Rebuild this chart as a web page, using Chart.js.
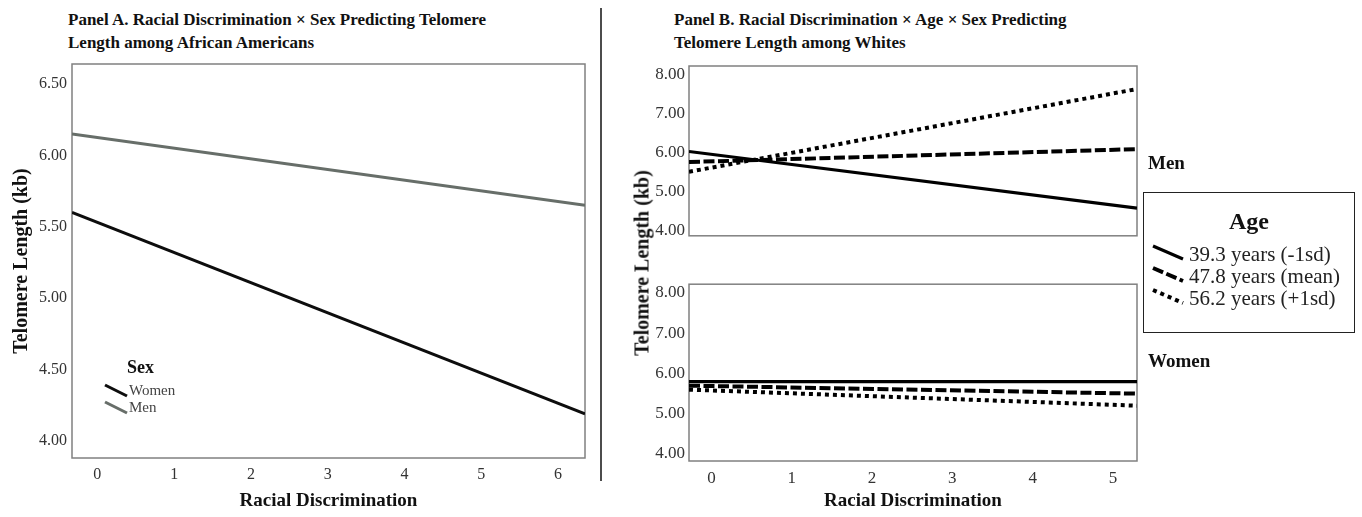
<!DOCTYPE html>
<html>
<head>
<meta charset="utf-8">
<script src="https://cdn.jsdelivr.net/npm/chart.js@4.4.1/dist/chart.umd.min.js"></script>
<style>
body { margin: 0; background: #fff; width: 1362px; height: 517px; overflow: hidden; position: relative;
       font-family: "Liberation Serif", "Times New Roman", serif; color: #111; }
.abs { position: absolute; }
.ptitle { font-weight: bold; font-size: 17px; line-height: 23px; white-space: nowrap; }
.ytitle { font-weight: bold; font-size: 20px; white-space: nowrap; transform: translate(-50%, -50%) rotate(-90deg); }
.glabel { font-weight: bold; font-size: 19px; white-space: nowrap; line-height: 22px; }
.leg { font-size: 15px; color: #444; white-space: nowrap; line-height: 17px; }
.agebox { border: 1.5px solid #222; box-sizing: border-box; }
.agehead { font-weight: bold; font-size: 24px; text-align: center; line-height: 28px; }
.ageitem { font-size: 21px; white-space: nowrap; line-height: 22px; color: #222; }
</style>
</head>
<body>

<div class="abs ptitle" style="left:68px; top:8px;">Panel A. Racial Discrimination × Sex Predicting Telomere<br>Length among African Americans</div>
<div class="abs ptitle" style="left:674px; top:8px;">Panel B. Racial Discrimination × Age × Sex Predicting<br>Telomere Length among Whites</div>

<canvas id="chartA" class="abs" style="left:0; top:0;" width="600" height="517"></canvas>
<canvas id="chartMen" class="abs" style="left:620px; top:0;" width="530" height="250"></canvas>
<canvas id="chartWomen" class="abs" style="left:620px; top:270px;" width="530" height="247"></canvas>

<div class="abs ytitle" style="left:642px; top:263px;">Telomere Length (kb)</div>
<div class="abs glabel" style="left:1148px; top:152px;">Men</div>
<div class="abs glabel" style="left:1148px; top:350px;">Women</div>

<!-- legend panel A -->
<div class="abs glabel" style="left:127px; top:356px; font-size:18px;">Sex</div>
<div class="abs leg" style="left:129px; top:382px;">Women</div>
<div class="abs leg" style="left:129px; top:399px;">Men</div>

<!-- legend panel B -->
<div class="abs agebox" style="left:1143px; top:192px; width:212px; height:141px;"></div>
<div class="abs agehead" style="left:1143px; top:207px; width:212px;">Age</div>
<div class="abs ageitem" style="left:1189px; top:243px;">39.3 years (-1sd)</div>
<div class="abs ageitem" style="left:1189px; top:265px;">47.8 years (mean)</div>
<div class="abs ageitem" style="left:1189px; top:287px;">56.2 years (+1sd)</div>

<svg id="overlay" class="abs" style="left:0; top:0; pointer-events:none;" width="1362" height="517"></svg>

<script>
// ---------- data ----------
// Panel A: line ends at the left / right edge of the plot
const discA = [-0.33, 6.35];
const womenA = [5.60, 4.19];
const menA = [6.15, 5.65];
const xTicksA = [0, 1, 2, 3, 4, 5, 6];
const yTicksA = [4.0, 4.5, 5.0, 5.5, 6.0, 6.5];

// Panel B: line ends at the left / right edge of each plot
const discB = [-0.28, 5.30];
const menYoung = [6.02, 4.57];
const menMean = [5.75, 6.08];
const menOld = [5.50, 7.62];
const womenYoung = [5.79, 5.79];
const womenMean = [5.69, 5.49];
const womenOld = [5.59, 5.19];
const xTicksB = [0, 1, 2, 3, 4, 5];
const yTicksB = [4, 5, 6, 7, 8];
const ageLabels = ['39.3 years (-1sd)', '47.8 years (mean)', '56.2 years (+1sd)'];

// ---------- styles ----------
const FONT = '"Liberation Serif", "Times New Roman", serif';
const tickColor = '#333';
const boxColor = '#808080';
const ageStyles = [
    { borderColor: '#000', borderWidth: 3.2, borderDash: [] },
    { borderColor: '#000', borderWidth: 4, borderDash: [11, 3.5] },
    { borderColor: '#000', borderWidth: 4, borderDash: [4, 4] }
];

function pairs(xs, ys) {
    const out = [];
    for (let i = 0; i < xs.length; i++) out.push({ x: xs[i], y: ys[i] });
    return out;
}

// rectangle round the plot area
const boxPlugin = {
    id: 'plotBox',
    beforeDatasetsDraw(chart) {
        const a = chart.chartArea;
        const ctx = chart.ctx;
        ctx.save();
        ctx.strokeStyle = boxColor;
        ctx.lineWidth = 1.5;
        ctx.strokeRect(a.left, a.top, a.right - a.left, a.bottom - a.top);
        ctx.restore();
    }
};

function lineSet(label, xs, ys, style) {
    return Object.assign({
        label: label,
        data: pairs(xs, ys),
        showLine: true,
        pointRadius: 0,
        borderCapStyle: 'butt',
        tension: 0
    }, style);
}

function yScale(min, max, ticks, width, size, pad, extra) {
    return Object.assign({
        type: 'linear', min: min, max: max,
        grid: { display: false, drawTicks: false }, border: { display: false },
        afterBuildTicks: s => { s.ticks = ticks.map(v => ({ value: v })); },
        afterFit: s => { s.width = width; },
        ticks: { padding: pad, color: tickColor, font: { family: FONT, size: size }, callback: v => Number(v).toFixed(2) }
    }, extra || {});
}

function xScale(min, max, ticks, height, size) {
    return {
        type: 'linear', min: min, max: max,
        grid: { display: false, drawTicks: false }, border: { display: false },
        afterBuildTicks: s => { s.ticks = ticks.map(v => ({ value: v })); },
        afterFit: s => { s.height = height; },
        ticks: { padding: 7, color: tickColor, font: { family: FONT, size: size }, callback: v => String(v), maxRotation: 0 },
        title: { display: true, text: 'Racial Discrimination', color: '#111',
                 font: { family: FONT, size: 19, weight: 'bold' }, padding: { top: 0, bottom: 5 } }
    };
}

const baseOptions = {
    responsive: false,
    animation: false,
    plugins: { legend: { display: false }, tooltip: { enabled: false } }
};

// ---------- Panel A ----------
new Chart(document.getElementById('chartA'), {
    type: 'scatter',
    data: {
        datasets: [
            lineSet('Women', discA, womenA, { borderColor: '#0d0d0d', borderWidth: 3 }),
            lineSet('Men', discA, menA, { borderColor: '#676e69', borderWidth: 3 })
        ]
    },
    options: Object.assign({}, baseOptions, {
        layout: { padding: { top: 64, right: 15, left: 0, bottom: 0 } },
        scales: {
            x: xScale(discA[0], discA[1], xTicksA, 59, 16),
            y: yScale(3.88, 6.64, yTicksA, 72, 16, 5, {
                title: { display: true, text: 'Telomere Length (kb)', color: '#111',
                         font: { family: FONT, size: 20, weight: 'bold' }, padding: { top: 10 } }
            })
        }
    }),
    plugins: [boxPlugin]
});

// ---------- Panel B, men ----------
new Chart(document.getElementById('chartMen'), {
    type: 'scatter',
    data: {
        datasets: [
            lineSet(ageLabels[0], discB, menYoung, ageStyles[0]),
            lineSet(ageLabels[1], discB, menMean, ageStyles[1]),
            lineSet(ageLabels[2], discB, menOld, ageStyles[2])
        ]
    },
    options: Object.assign({}, baseOptions, {
        layout: { padding: { top: 66, right: 13, left: 0, bottom: 1 } },
        scales: {
            x: { type: 'linear', min: discB[0], max: discB[1], display: false },
            y: yScale(3.86, 8.21, yTicksB, 69, 17, 4)
        }
    }),
    plugins: [boxPlugin]
});

// ---------- Panel B, women ----------
new Chart(document.getElementById('chartWomen'), {
    type: 'scatter',
    data: {
        datasets: [
            lineSet(ageLabels[0], discB, womenYoung, ageStyles[0]),
            lineSet(ageLabels[1], discB, womenMean, ageStyles[1]),
            lineSet(ageLabels[2], discB, womenOld, ageStyles[2])
        ]
    },
    options: Object.assign({}, baseOptions, {
        layout: { padding: { top: 8, right: 13, left: 0, bottom: 0 } },
        scales: {
            x: xScale(discB[0], discB[1], xTicksB, 56, 17),
            y: yScale(3.81, 8.22, yTicksB, 69, 17, 4)
        }
    }),
    plugins: [boxPlugin]
});

// ---------- divider and legend samples ----------
const svg = document.getElementById('overlay');
function svgLine(x1, y1, x2, y2, color, width, dash) {
    const l = document.createElementNS('http://www.w3.org/2000/svg', 'line');
    l.setAttribute('x1', x1); l.setAttribute('y1', y1);
    l.setAttribute('x2', x2); l.setAttribute('y2', y2);
    l.setAttribute('stroke', color);
    l.setAttribute('stroke-width', width);
    if (dash && dash.length) l.setAttribute('stroke-dasharray', dash.join(' '));
    svg.appendChild(l);
}
svgLine(601, 8, 601, 481, '#111', 1.5);
// Sex legend
svgLine(105, 385, 127, 396, '#0d0d0d', 3);
svgLine(105, 402, 127, 413, '#676e69', 3);
// Age legend
for (let i = 0; i < ageStyles.length; i++) {
    const y = 246 + i * 22;
    svgLine(1153, y, 1183, y + 13, ageStyles[i].borderColor, ageStyles[i].borderWidth, ageStyles[i].borderDash);
}
</script>
</body>
</html>
